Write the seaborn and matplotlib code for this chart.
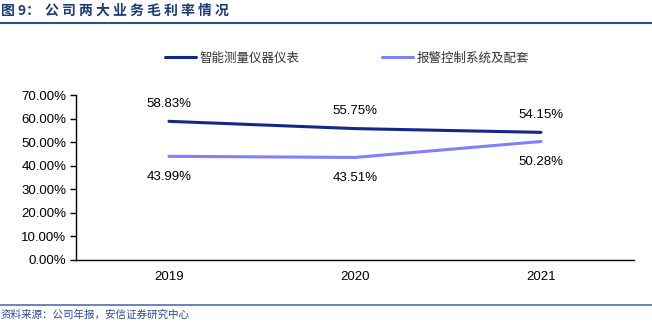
import matplotlib
matplotlib.use("Agg")
import matplotlib.pyplot as plt
import seaborn as sns
import pandas as pd
from matplotlib.lines import Line2D

years = ["2019", "2020", "2021"]
series_names = ["智能测量仪器仪表", "报警控制系统及配套"]
instr_margin = [58.83, 55.75, 54.15]
alarm_margin = [43.99, 43.51, 50.28]
yticks = [0, 10, 20, 30, 40, 50, 60, 70]

title_prefix = "图 9："
title_body = "公司两大业务毛利率情况"
source = "资料来源：公司年报，安信证券研究中心"

colors = ["#14288C", "#7F7FFF"]

sns.set_theme(style="white")
plt.rcParams['font.family'] = ['Liberation Sans', 'Noto Sans CJK SC', 'DejaVu Sans']

df = pd.DataFrame({
    "year": years * 2,
    "x": list(range(len(years))) * 2,
    "value": instr_margin + alarm_margin,
    "series": [series_names[0]] * 3 + [series_names[1]] * 3,
})

fig = plt.figure(figsize=(6.52, 3.35), dpi=100)
ax = fig.add_axes([76/652, 1-260/335, (634-76)/652, (260-95)/335])

sns.lineplot(data=df, x="x", y="value", hue="series", palette=colors,
             linewidth=2.2, ax=ax, legend=False, sort=False)

ax.set_xlim(-0.5, 2.5)
ax.set_ylim(0, 70)
ax.set_yticks(yticks)
ax.set_yticklabels([f"{v:.2f}%" for v in yticks], fontsize=9.5, color="#000000")
ax.set_xticks([0, 1, 2])
ax.set_xticklabels(years, fontsize=9.5, color="#000000")
ax.tick_params(axis='x', length=0, pad=8)
ax.set_xticks([-0.5, 0.5, 1.5, 2.5], minor=True)
ax.tick_params(axis='x', which='minor', direction='in', length=3, width=1, color='black')
ax.tick_params(axis='y', direction='out', length=4, width=1, color='black', pad=3, left=True)
ax.set_xlabel("")
ax.set_ylabel("")
for s in ["top", "right"]:
    ax.spines[s].set_visible(False)
for s in ["left", "bottom"]:
    ax.spines[s].set_color("black")
    ax.spines[s].set_linewidth(1)

for i, v in enumerate(instr_margin):
    ax.annotate(f"{v:.2f}%", (i, v), xytext=(0, 8.5), textcoords="offset points",
                ha="center", va="bottom", fontsize=9.5, color="black")
for i, v in enumerate(alarm_margin):
    ax.annotate(f"{v:.2f}%", (i, v), xytext=(0, -10.5), textcoords="offset points",
                ha="center", va="top", fontsize=9.5, color="black")

handles = [Line2D([0], [0], color=c, lw=2.2) for c in colors]
fig.legend(handles, series_names, loc="center", bbox_to_anchor=(347/652, 1-58/335),
           ncol=2, frameon=False, handlelength=2.5, columnspacing=6.6,
           handletextpad=0.3, labelcolor="#333333",
           prop={'family': ['Noto Sans CJK SC'], 'size': 9})

cjk = ['Noto Sans CJK SC', 'DejaVu Sans']
fig.text(1/652, 1-11/335, title_prefix, fontsize=10, fontweight="bold", color="#1F3A7A",
         ha="left", va="center", family=cjk)
fig.text(45/652, 1-11/335, " ".join(title_body), fontsize=10, fontweight="bold",
         color="#1F3A7A", ha="left", va="center", family=cjk)
fig.add_artist(Line2D([0, 1], [1-22.5/335, 1-22.5/335], color="#2E4E8F", lw=1.5,
                      transform=fig.transFigure))
fig.add_artist(Line2D([0, 1], [1-305/335, 1-305/335], color="#5070B0", lw=1.2,
                      transform=fig.transFigure))
fig.text(1/652, 1-315/335, source, fontsize=7.6, style="italic", color="#2F4C9A",
         ha="left", va="center", family=cjk)

fig.savefig("out.png", dpi=100)
